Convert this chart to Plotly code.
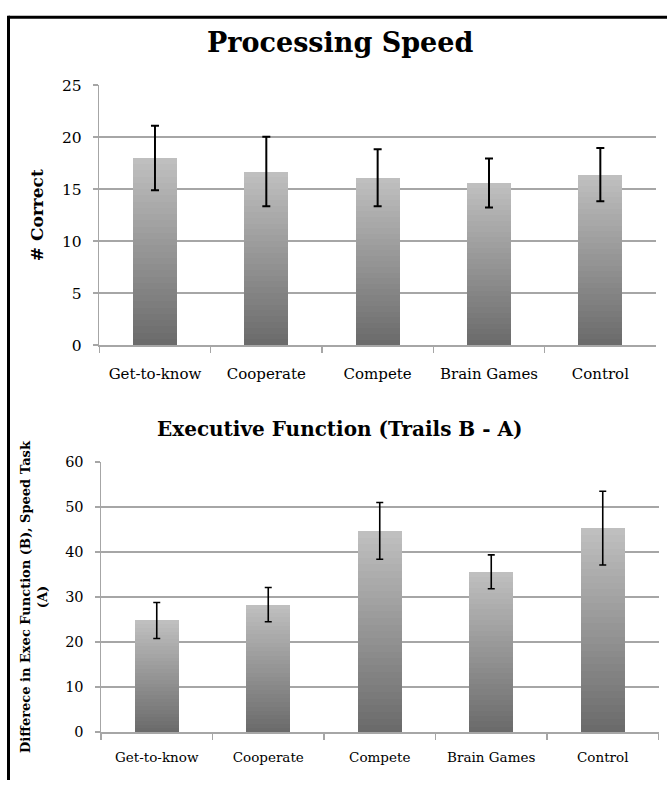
import plotly.graph_objects as go

# ---- data ----
groups = ["Get-to-know", "Cooperate", "Compete", "Brain Games", "Control"]
speed_mean = [18.0, 16.7, 16.1, 15.6, 16.4]
speed_err = [3.1, 3.35, 2.75, 2.35, 2.55]
exec_mean = [24.8, 28.3, 44.7, 35.6, 45.3]
exec_err = [4.0, 3.8, 6.3, 3.75, 8.2]
speed_ticks = [0, 5, 10, 15, 20, 25]
exec_ticks = [0, 10, 20, 30, 40, 50, 60]

W, H = 667, 789
SERIF = "DejaVu Serif"
GRID = "#a6a6a6"
N_LAYERS = 30
LIGHT = (192, 192, 192)
DARK = (106, 106, 106)


def shade(t):
    c = [round(DARK[i] + (LIGHT[i] - DARK[i]) * t) for i in range(3)]
    return f"rgb({c[0]},{c[1]},{c[2]})"


fig = go.Figure()


def add_panel(means, errs, xa, ya, err_thick, err_w):
    # gradient bars: overlaid layers, light at top, dark at bottom
    for k in range(N_LAYERS, 0, -1):
        f = k / N_LAYERS
        fig.add_trace(go.Bar(
            x=groups, y=[m * f for m in means], width=0.395,
            marker=dict(color=shade((k - 0.5) / N_LAYERS), line=dict(width=0)),
            xaxis=xa, yaxis=ya, hoverinfo="skip", showlegend=False,
        ))
    fig.add_trace(go.Scatter(
        x=groups, y=means, mode="markers",
        marker=dict(size=1, opacity=0),
        error_y=dict(type="data", array=errs, visible=True, color="black",
                     thickness=err_thick, width=err_w),
        xaxis=xa, yaxis=ya, showlegend=False, hoverinfo="skip",
    ))


add_panel(speed_mean, speed_err, "x", "y", 2, 4)
add_panel(exec_mean, exec_err, "x2", "y2", 1.6, 3.5)


def px_x(a, b):
    return [a / W, b / W]


def px_y(top, bottom):
    return [1 - bottom / H, 1 - top / H]


common_x = dict(
    type="category", range=[-0.5, 4.5], showline=True, linecolor=GRID, linewidth=1.5,
    ticks="outside", tickson="boundaries", ticklen=6, tickcolor=GRID, tickwidth=1.5,
    showgrid=False, zeroline=False,
)
common_y = dict(
    showline=True, linecolor=GRID, linewidth=1.5, ticks="outside", ticklen=5,
    tickcolor=GRID, tickwidth=1.5, showgrid=True, gridcolor=GRID, gridwidth=1.5,
    zeroline=False,
)

fig.update_layout(
    width=W, height=H, margin=dict(l=0, r=0, t=0, b=0),
    paper_bgcolor="white", plot_bgcolor="white", barmode="overlay", bargap=0,
    showlegend=False,
    xaxis=dict(common_x, domain=px_x(99.3, 656), anchor="y",
               tickfont=dict(family=SERIF, size=15, color="black"), ticklabelstandoff=14),
    yaxis=dict(common_y, domain=px_y(78, 344), anchor="x", range=[0, 25],
               tickvals=speed_ticks, tickfont=dict(family=SERIF, size=15.5, color="black"),
               ticklabelstandoff=8,
               title=dict(text="# Correct", font=dict(family=SERIF, size=17, color="black",
                                                      weight="bold"), standoff=14)),
    xaxis2=dict(common_x, domain=px_x(101, 658.5), anchor="y2",
                tickfont=dict(family=SERIF, size=13.5, color="black"), ticklabelstandoff=12),
    yaxis2=dict(common_y, domain=px_y(463.5, 740), anchor="x2", range=[0, 60],
                tickvals=exec_ticks, tickfont=dict(family=SERIF, size=14.5, color="black"),
                ticklabelstandoff=8,
                title=dict(text="Differece in Exec Function (B), Speed Task<br>(A)",
                           font=dict(family=SERIF, size=13, color="black", weight="bold"),
                           standoff=14)),
    annotations=[
        dict(text="Processing Speed", x=340 / W, y=1 - 34 / H, xref="paper", yref="paper",
             showarrow=False, xanchor="center", yanchor="middle",
             font=dict(family=SERIF, size=27, color="black", weight="bold")),
        dict(text="Executive Function (Trails B - A)", x=339 / W, y=1 - 430 / H,
             xref="paper", yref="paper", showarrow=False, xanchor="center", yanchor="middle",
             font=dict(family=SERIF, size=20, color="black", weight="bold")),
    ],
    shapes=[
        dict(type="line", xref="paper", yref="paper", x0=8.5 / W, x1=1, y0=1 - 8.5 / H,
             y1=1 - 8.5 / H, line=dict(color="black", width=3)),
        dict(type="line", xref="paper", yref="paper", x0=8.5 / W, x1=8.5 / W, y0=0,
             y1=1 - 7 / H, line=dict(color="black", width=3)),
    ],
)

fig.write_html(
    "out.html",
    config={"displayModeBar": False, "staticPlot": True},
    post_script=(
        "document.documentElement.style.margin='0';"
        "document.body.style.margin='0';"
        "document.body.style.overflow='hidden';"
        "document.documentElement.style.overflow='hidden';"
    ),
)
